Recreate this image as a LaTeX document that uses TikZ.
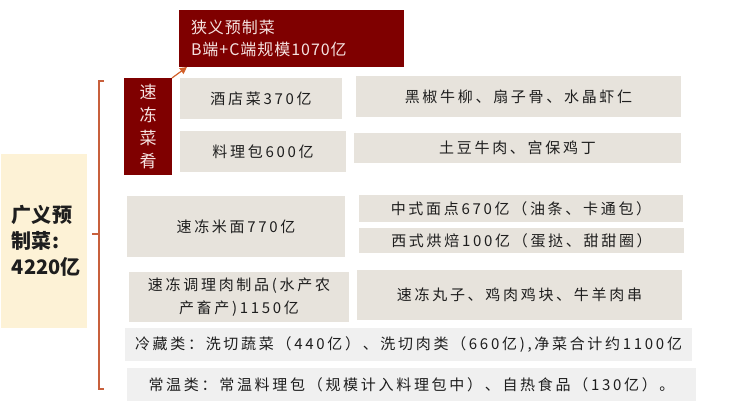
\documentclass[tikz,border=0pt]{standalone}
\usepackage{fontspec}
\usetikzlibrary{arrows.meta}
\newfontfamily\cjk{Noto Sans CJK SC}
\newfontfamily\cjkw[LetterSpace=18]{Noto Sans CJK SC}
\newfontfamily\cjkt[LetterSpace=6]{Noto Sans CJK SC}
\definecolor{beigec}{HTML}{E7E3DC}
\definecolor{greyc}{HTML}{F0F0F0}
\definecolor{yellowc}{HTML}{FDF2D6}
\definecolor{redc}{HTML}{7F0000}
\definecolor{pinkc}{HTML}{F5E2E0}
\definecolor{brkc}{HTML}{C8603C}
\definecolor{arrc}{HTML}{D2602A}
\definecolor{txtc}{HTML}{1E1E1E}
\tikzset{
  base/.style={inner sep=0pt, outer sep=0pt, align=center, text=txtc,
    font=\cjkw\fontsize{15}{23}\selectfont},
  beige/.style={base, fill=beigec},
  greyrow/.style={base, fill=greyc},
  redbox/.style={base, fill=redc, text=pinkc},
  brk/.style={draw=brkc, line width=1.1pt},
  arr/.style={draw=arrc, line width=1.2pt, -{Triangle[length=7pt,width=7pt]}},
}
\begin{document}
\begin{tikzpicture}[x=1pt, y=-1pt]
\useasboundingbox (0,0) rectangle (730,414);
% top narrow box
\node[redbox, minimum height=57pt, text width=201pt, inner xsep=12pt, align=left,
  font=\cjkt\fontsize{16}{22}\selectfont] (top) at (291.5,38.5)
  {狭义预制菜\\B端+C端规模1070亿};
% vertical label
\node[redbox, minimum width=48pt, minimum height=97pt,
  font=\cjk\fontsize{17}{23}\selectfont] (sdcy) at (148,126.5)
  {速\\冻\\菜\\肴};
% yellow root
\node[base, fill=yellowc, minimum height=174pt, text width=64pt, inner xsep=11pt, align=left,
  font=\cjk\bfseries\fontsize{20}{26}\selectfont] (root) at (44,241)
  {广义预\\制菜:\\4220亿};
% left column
\node[beige, minimum width=162pt, minimum height=41pt] (jdc) at (261,98.5) {酒店菜370亿};
\node[beige, minimum width=166pt, minimum height=41pt] (llb) at (263,151.5) {料理包600亿};
\node[beige, minimum width=218pt, minimum height=61pt] (mm) at (236,226.5) {速冻米面770亿};
\node[beige, minimum width=220pt, minimum height=50pt] (tl) at (239,297)
  {速冻调理肉制品(水产农\\产畜产)1150亿};
% right column
\node[beige, minimum width=325pt, minimum height=41pt] (hj) at (518.5,96.5) {黑椒牛柳、扇子骨、水晶虾仁};
\node[beige, minimum width=327pt, minimum height=30pt] (td) at (517.5,148) {土豆牛肉、宫保鸡丁};
\node[beige, minimum width=324pt, minimum height=27pt] (zs) at (521,208.5) {中式面点670亿（油条、卡通包）};
\node[beige, minimum width=325pt, minimum height=25pt] (xs) at (521.5,240.5) {西式烘焙100亿（蛋挞、甜甜圈）};
\node[beige, minimum width=325pt, minimum height=50pt] (wz) at (519.5,295) {速冻丸子、鸡肉鸡块、牛羊肉串};
% bottom rows
\node[greyrow, minimum width=567pt, minimum height=33pt] (lc) at (408.5,344.5)
  {冷藏类：洗切蔬菜（440亿）、洗切肉类（660亿),净菜合计约1100亿};
\node[greyrow, minimum width=569pt, minimum height=33pt] (cw) at (411.5,384.5)
  {常温类：常温料理包（规模计入料理包中）、自热食品（130亿）。};
% bracket
\coordinate (bt) at (104,81);
\coordinate (bb) at (104,389);
\coordinate (bm) at (92,234);
\draw[brk] (bt) -- (99,81) -- (99,389) -- (bb);
\draw[brk] (bm) -- (99,234);
% arrow
\coordinate (tipA) at (187,67);
\draw[arr] (sdcy.north east) -- (tipA);
\end{tikzpicture}
\end{document}
